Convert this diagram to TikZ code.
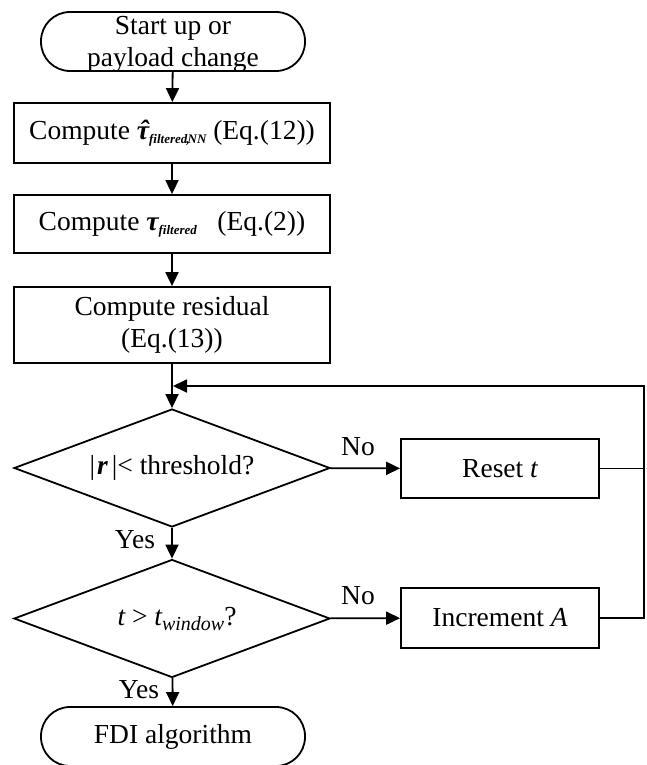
\documentclass[tikz,border=0pt]{standalone}
\usepackage{fontspec}
\setmainfont{Liberation Serif}
\usetikzlibrary{arrows.meta,shapes.geometric}
\newcommand\bsub[1]{\raisebox{-4pt}{\fontsize{13}{13}\selectfont\bfseries\itshape #1}}
\newcommand\tauhat{{\bfseries\itshape\ooalign{τ\cr\hidewidth\kern2pt ˆ\hidewidth\cr}}}
\begin{document}
\begin{tikzpicture}[x=1pt,y=-1pt,
  every node/.style={font=\fontsize{27.5}{31.5}\selectfont},
  box/.style={draw, line width=1.8pt, minimum width=316pt, inner sep=0pt, align=center},
  term/.style={draw, line width=1.8pt, rounded corners=29pt, minimum width=264pt, minimum height=59pt, inner sep=0pt, align=center},
  dec/.style={draw, diamond, shape aspect=2.68, line width=1.8pt, minimum width=316pt, minimum height=118pt, inner sep=0pt},
  arr/.style={line width=1.8pt, -{Triangle[length=14pt,width=13pt]}},
  conn/.style={line width=1.8pt},
  lbl/.style={inner sep=0pt}
]
\useasboundingbox (0,0) rectangle (646,765);

\node[term, text depth=0pt] (start) at (173,41.5) {Start up or\\payload change};
\node[box, minimum height=60pt] (b1) at (172,133) {Compute \tauhat\bsub{filtered\kern-1pt,\kern-2pt NN} (Eq.(12))};
\node[box, minimum height=58pt] (b2) at (172,224) {Compute {\bfseries\itshape τ}\bsub{filtered}\hspace{0.5em} (Eq.(2))};
\node[box, minimum height=76pt] (b3) at (172,325) {Compute residual\\(Eq.(13))};
\node[dec] (d1) at (172,468) {|\kern2pt{\bfseries\itshape r}\kern4pt|< threshold?};
\node[box, minimum width=198pt, minimum height=59pt] (reset) at (500,468.5) {Reset {\itshape t}};
\node[dec] (d2) at (172,618.5) {\hspace{10pt}{\itshape t} > {\itshape t}\raisebox{-5pt}{\fontsize{20}{20}\selectfont\itshape window}?};
\node[box, minimum width=198pt, minimum height=60pt] (inc) at (500,618) {Increment {\itshape A}};
\node[term] (fdi) at (173,736.5) {FDI algorithm};

\node[lbl] (no1) at (358,447) {No};
\node[lbl] (no2) at (358,596) {No};
\node[lbl] (yes1) at (135,540) {Yes};
\node[lbl] (yes2) at (139,690) {Yes};

\coordinate (join) at (173,386);
\coordinate (rtop) at (644,386);

\draw[arr] (start) -- (b1);
\draw[arr] (b1) -- (b2);
\draw[arr] (b2) -- (b3);
\draw[arr] (b3) -- (d1);
\draw[arr] (d1) -- (reset);
\draw[arr] (d1) -- (d2);
\draw[arr] (d2) -- (inc);
\draw[arr] (d2) -- (fdi);
\draw[conn] (reset.east) -- (reset.east -| rtop);
\draw[arr] (inc.east) -- (inc.east -| rtop) -- (rtop) -- (join);
\end{tikzpicture}
\end{document}
